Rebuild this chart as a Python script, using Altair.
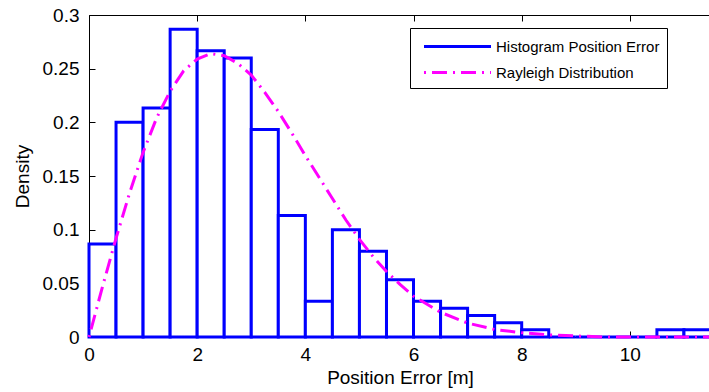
import altair as alt
import pandas as pd

# ---- data ----
bin_start = [0.0, 0.5, 1.0, 1.5, 2.0, 2.5, 3.0, 3.5, 4.0, 4.5, 5.0, 5.5,
             6.0, 6.5, 7.0, 7.5, 8.0, 8.5, 9.0, 9.5, 10.0, 10.5, 11.0]
density = [0.0867, 0.2, 0.2133, 0.2867, 0.2667, 0.26, 0.1933, 0.1133, 0.0333, 0.1, 0.08, 0.0533,
           0.0333, 0.0267, 0.02, 0.0133, 0.0067, 0.0, 0.0, 0.0, 0.0, 0.0067, 0.0067]
bin_width = 0.5

curve_x = [0, 0.25, 0.5, 0.75, 1, 1.25, 1.5, 1.75, 2, 2.25, 2.5, 2.75, 3, 3.25, 3.5, 3.75,
           4, 4.25, 4.5, 4.75, 5, 5.25, 5.5, 5.75, 6, 6.5, 7, 7.5, 8, 8.5, 9, 9.5, 10, 10.5, 11, 11.5]
curve_y = [0.0, 0.047, 0.092, 0.134, 0.172, 0.204, 0.229, 0.248, 0.259, 0.264, 0.262, 0.255,
           0.244, 0.228, 0.210, 0.190, 0.169, 0.149, 0.129, 0.109, 0.091, 0.075, 0.061, 0.049,
           0.038, 0.023, 0.013, 0.007, 0.004, 0.002, 0.001, 0.0, 0.0, 0.0, 0.0, 0.0]

series = ["Histogram Position Error", "Rayleigh Distribution"]
colors = ["#0000ff", "#ff00ff"]
dashes = [[1, 0], [2, 6, 15, 6]]

x_ticks = [0, 2, 4, 6, 8, 10]
y_ticks = [0, 0.05, 0.1, 0.15, 0.2, 0.25, 0.3]

hist_df = pd.DataFrame({
    "x0": bin_start,
    "x1": [b + bin_width for b in bin_start],
    "density": density,
    "series": series[0],
})
curve_df = pd.DataFrame({"x": curve_x, "y": curve_y, "series": series[1]})

FONT = "Liberation Sans"
xscale = alt.Scale(domain=[0, 11.5], nice=False, zero=False)
yscale = alt.Scale(domain=[0, 0.3], nice=False)
stroke_scale = alt.Scale(domain=series, range=colors)
dash_scale = alt.Scale(domain=series, range=dashes)

pad = "\u00a0" * 15
legend_spec = alt.Legend(
    title=None, orient="none", legendX=321, legendY=13,
    symbolType="M-3.35,0H3.35", symbolSize=400, symbolStrokeWidth=3,
    symbolOffset=29, labelOffset=27,
    labelFont=FONT, labelFontSize=15, labelColor="black", labelLimit=400,
    labelExpr="datum.label == '%s' ? datum.label + '%s' : datum.label" % (series[0], pad),
    padding=7, rowPadding=6, strokeColor="black", fillColor="white",
)

label_x_axis = alt.Axis(
    orient="bottom", values=x_ticks, format="~r", ticks=False, tickSize=0, domain=False,
    grid=False, labelFont=FONT, labelFontSize=19, labelColor="black", labelPadding=8,
    labelFlush=False, title="Position Error [m]", titleFont=FONT, titleFontSize=19,
    titleFontWeight="normal", titleColor="black", titlePadding=4,
)
label_y_axis = alt.Axis(
    orient="left", values=y_ticks, format="~r", ticks=False, tickSize=0, domain=False,
    grid=False, labelFont=FONT, labelFontSize=19, labelColor="black", labelPadding=10,
    labelFlush=False, title="Density", titleFont=FONT, titleFontSize=19,
    titleFontWeight="normal", titleColor="black", titlePadding=10,
)
tick_x_axis = alt.Axis(
    orient="bottom", values=x_ticks, offset=-6, tickSize=6, tickColor="black", tickWidth=1,
    labels=False, domain=False, grid=False, title=None,
)
tick_y_axis = alt.Axis(
    orient="left", values=y_ticks, offset=-6, tickSize=6, tickColor="black", tickWidth=1,
    labels=False, domain=False, grid=False, title=None,
)
tick_top_axis = alt.Axis(
    orient="top", values=x_ticks, offset=-6, tickSize=6, tickColor="black", tickWidth=1,
    labels=False, domain=False, grid=False, title=None,
)

bars = alt.Chart(hist_df).mark_bar(fill="white", strokeWidth=3).encode(
    x=alt.X("x0:Q", scale=xscale, axis=label_x_axis),
    x2="x1:Q",
    y=alt.Y("density:Q", scale=yscale, axis=label_y_axis),
    y2=alt.datum(0),
    stroke=alt.Stroke("series:N", scale=stroke_scale, legend=legend_spec),
    strokeDash=alt.StrokeDash("series:N", scale=dash_scale, legend=legend_spec),
)

curve = alt.Chart(curve_df).mark_line(strokeWidth=3).encode(
    x=alt.X("x:Q", scale=xscale, axis=tick_x_axis),
    y=alt.Y("y:Q", scale=yscale, axis=tick_y_axis),
    stroke=alt.Stroke("series:N", scale=stroke_scale, legend=legend_spec),
    strokeDash=alt.StrokeDash("series:N", scale=dash_scale, legend=legend_spec),
)

top_ticks = alt.Chart(hist_df).mark_bar(opacity=0).encode(
    x=alt.X("x0:Q", scale=xscale, axis=tick_top_axis),
    x2="x1:Q",
    y=alt.Y("density:Q", scale=yscale, axis=None),
    y2=alt.datum(0),
)

chart = alt.layer(bars, curve, top_ticks).resolve_axis(
    x="independent", y="independent"
).properties(
    width=622, height=322,
    autosize=alt.AutoSizeParams(type="none"),
    padding={"left": 89, "top": 15, "right": -2, "bottom": 55},
).configure(font=FONT, background="white").configure_view(
    stroke="black", strokeWidth=1
)

chart.save("out.html", embed_options={"renderer": "svg", "actions": False})
